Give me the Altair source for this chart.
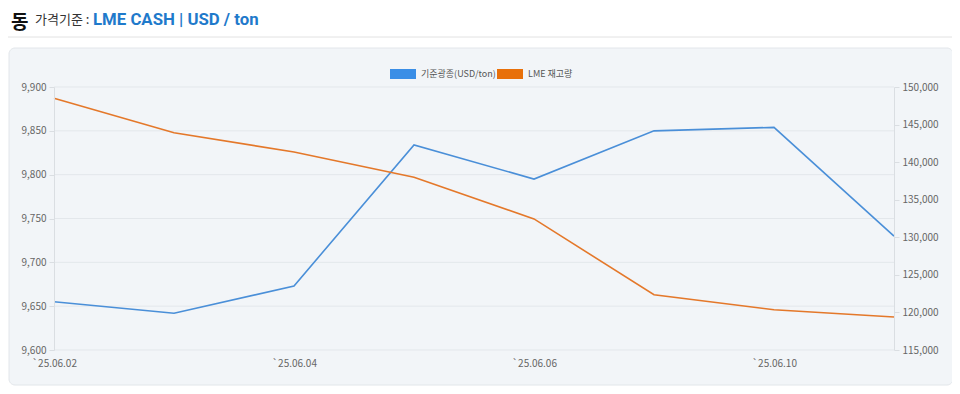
import altair as alt
import pandas as pd

dates = ["`25.06.02", "`25.06.03", "`25.06.04", "`25.06.05",
         "`25.06.06", "`25.06.09", "`25.06.10", "`25.06.11"]
price = [9655, 9642, 9673, 9834, 9795, 9850, 9854, 9730]
stock = [148500, 143900, 141350, 138000, 132450, 122350, 120350, 119400]
series_names = ["기준광종(USD/ton)", "LME 재고량"]
series_colors = ["#3a8ee6", "#e8700a"]
line_colors = ["#4a8fd8", "#e4782a"]
label_dates = [dates[0], dates[2], dates[4], dates[6]]
price_ticks = [9600, 9650, 9700, 9750, 9800, 9850, 9900]
stock_ticks = [115000, 120000, 125000, 130000, 135000, 140000, 145000, 150000]

df = pd.DataFrame({"date": dates, "price": price, "stock": stock})
grid_df = pd.DataFrame({"price": price_ticks})

W, H = 840, 263
FONT = "Noto Sans CJK KR"

x_enc = alt.X("date:N", sort=dates, scale=alt.Scale(type="point", padding=0),
              axis=alt.Axis(values=label_dates, labelAngle=0, domain=False, ticks=False,
                            grid=False, labelPadding=8, labelFontSize=10, zindex=1,
                            labelColor="#666", labelFont=FONT, title=None))

def one(text):
    return pd.DataFrame({"t": [text]})

bg = alt.Chart(one("")).mark_rect(fill="#f2f5f8", stroke="#e2e6ea", cornerRadius=6).encode(
    x=alt.value(-45), x2=alt.value(899), y=alt.value(-39), y2=alt.value(298))

underline = alt.Chart(one("")).mark_rule(color="#e2e2e2", strokeWidth=1).encode(
    x=alt.value(-46), x2=alt.value(898), y=alt.value(-50))

t1 = alt.Chart(one("동")).mark_text(align="left", baseline="top", fontSize=19,
                                   fontWeight="bold", font=FONT, color="#111").encode(
    text="t:N", x=alt.value(-43), y=alt.value(-73))
t2 = alt.Chart(one("가격기준 :")).mark_text(align="left", baseline="middle", fontSize=13,
                                        font=FONT, color="#333").encode(
    text="t:N", x=alt.value(-19), y=alt.value(-67))
t3 = alt.Chart(one("LME CASH | USD / ton")).mark_text(align="left", baseline="middle", fontSize=16.8,
                                                     fontWeight="bold", font="Roboto",
                                                     color="#1f7acb").encode(
    text="t:N", x=alt.value(39), y=alt.value(-67))

leg_layers = []
sw_x = [336, 443]
for i in range(2):
    leg_layers.append(alt.Chart(one("")).mark_rect(fill=series_colors[i]).encode(
        x=alt.value(sw_x[i]), x2=alt.value(sw_x[i] + 26), y=alt.value(-18), y2=alt.value(-8)))
    leg_layers.append(alt.Chart(one(series_names[i])).mark_text(
        align="left", baseline="middle", fontSize=9, font=FONT, color="#555").encode(
        text="t:N", x=alt.value(sw_x[i] + 31), y=alt.value(-13)))

price_scale = alt.Scale(domain=[9600, 9900], nice=False, zero=False)
left_axis = alt.Axis(values=price_ticks, format=",d", grid=False,
                     domainColor="#dadee2", tickColor="#dadee2",
                     tickSize=5, labelFontSize=10, labelColor="#666", labelFont=FONT,
                     labelPadding=3, title=None, zindex=1)

grid = alt.Chart(grid_df).mark_rule(color="#e3e7eb", strokeWidth=1).encode(
    x=alt.value(0), x2=alt.value(W),
    y=alt.Y("price:Q", scale=price_scale, axis=left_axis))

blue = alt.Chart(df).mark_line(color=line_colors[0], strokeWidth=1.6).encode(
    x=x_enc,
    y=alt.Y("price:Q", scale=price_scale, axis=left_axis))
orange = alt.Chart(df).mark_line(color=line_colors[1], strokeWidth=1.6).encode(
    x=x_enc,
    y=alt.Y("stock:Q", scale=alt.Scale(domain=[115000, 150000], nice=False, zero=False),
            axis=alt.Axis(orient="right", values=stock_ticks, format=",d",
                          grid=False, domainColor="#dadee2", tickColor="#dadee2",
                          tickSize=5, labelFontSize=10, labelColor="#666", labelFont=FONT,
                          labelPadding=3, title=None, zindex=1)))

left = alt.layer(grid, blue)
lines = alt.layer(left, orange).resolve_scale(y="independent")

chart = alt.layer(bg, underline, t1, t2, t3, *leg_layers, lines).properties(
    width=W, height=H,
    padding={"left": 46, "top": 79, "right": 58, "bottom": 36},
    autosize=alt.AutoSizeParams(type="none"),
    background="white",
).configure_view(stroke=None)

chart.save("out.html", embed_options={"renderer": "svg", "actions": False})
